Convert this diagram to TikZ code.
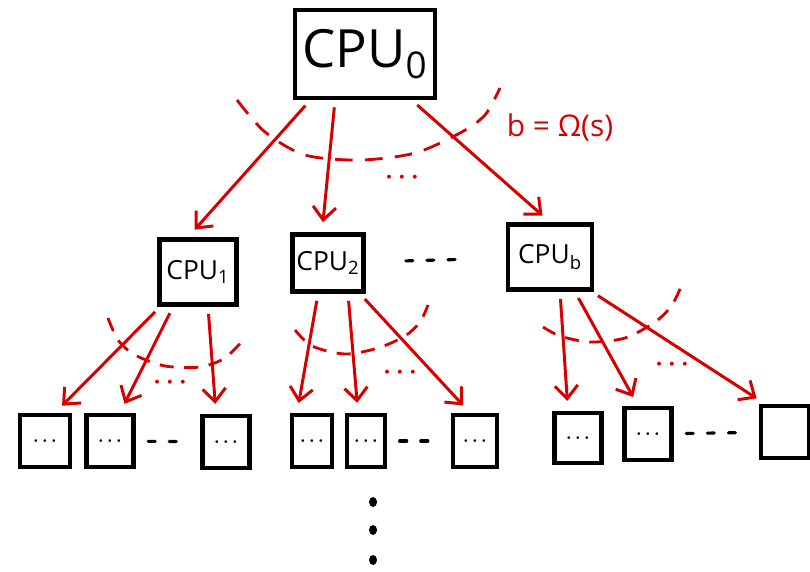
\documentclass[tikz,border=0pt]{standalone}
\usepackage{fontspec}
\setmainfont{Open Sans}
\usetikzlibrary{arrows.meta}
\definecolor{pen}{RGB}{214,0,0}

\begin{document}
\begin{tikzpicture}[
        x=0.02cm, y=-0.02cm,
        cpu/.style={rectangle, draw=black, line width=2.7pt, inner sep=0pt, font=\fontsize{15}{17}\selectfont},
        leaf/.style={rectangle, draw=black, line width=2.5pt, inner sep=0pt, minimum width=0.94cm, minimum height=1.04cm, font=\normalsize\boldmath},
        arrow/.style={-{Straight Barb[length=2.6mm,width=4.6mm]}, pen, line width=1.7pt, shorten <=0.14cm, shorten >=0.2cm},
        span/.style={pen, line width=1.6pt, dash pattern=on 10pt off 7pt},
        gap/.style={black, line width=1.8pt, dash pattern=on 4pt off 8pt, line cap=round, shorten <=0.25cm, shorten >=0.2cm},
        etc/.style={pen, font=\Large\boldmath}
    ]
    \useasboundingbox (0,0) rectangle (810,571);
    % Nodes
    \node[cpu, minimum width=2.8cm, minimum height=1.76cm, font=\fontsize{30}{32}\selectfont] (cpu0) at (365,54) {CPU\textsubscript{0}};
    \node[cpu, minimum width=1.54cm, minimum height=1.3cm] (cpu1) at (198,272) {CPU\textsubscript{1}};
    \node[cpu, minimum width=1.42cm, minimum height=1.14cm] (cpu2) at (328,263) {CPU\textsubscript{2}};
    \node[cpu, minimum width=1.68cm, minimum height=1.3cm] (cpub) at (550,257) {CPU\textsubscript{b}};
    \node[leaf, minimum width=1cm] (l1) at (45,441) {$\cdots$};
    \node[leaf] (l2) at (110,441) {$\cdots$};
    \node[leaf] (l3) at (226,442) {$\cdots$};
    \node[leaf, minimum width=0.8cm] (l4) at (312,441) {$\cdots$};
    \node[leaf, minimum width=0.76cm] (l5) at (366,441) {$\cdots$};
    \node[leaf, minimum width=0.88cm] (l6) at (475,441) {$\cdots$};
    \node[leaf, minimum height=1cm] (l7) at (578,438) {$\cdots$};
    \node[leaf] (l8) at (648,434) {$\cdots$};
    \node[leaf, minimum width=0.96cm] (l9) at (785,432) {};
    % Labels
    \node[pen, font=\fontsize{17}{19}\selectfont] (bound) at (560,128) {b = Ω(s)};
    \node[etc] (etc0) at (402,178) {$\cdots$};
    \node[etc] (etc1) at (170,383) {$\cdots$};
    \node[etc] (etc2) at (400,373) {$\cdots$};
    \node[etc] (etcb) at (672,365) {$\cdots$};
    % Fan-out arcs
    \draw[span] plot[smooth] coordinates {(237,100) (265,132) (305,155) (360,160) (415,153) (460,133) (485,115) (500,88)};
    \draw[span, dash pattern=on 8pt off 6pt] plot[smooth] coordinates {(108,318) (118,340) (135,355) (165,366) (200,367) (225,358) (243,340)};
    \draw[span, dash pattern=on 8pt off 6pt] plot[smooth] coordinates {(295,330) (312,346) (345,354) (378,348) (405,336) (420,322) (428,305)};
    \draw[span, dash pattern=on 8pt off 6pt] plot[smooth] coordinates {(543,327) (560,336) (590,342) (625,338) (655,322) (672,305) (683,282)};
    % Edges
    \draw[arrow] ([xshift=-1.1cm]cpu0.south) -- ([xshift=-0.2cm]cpu1.north);
    \draw[arrow] ([xshift=-0.6cm]cpu0.south) -- ([xshift=-0.12cm]cpu2.north);
    \draw[arrow] ([xshift=0.94cm]cpu0.south) -- (cpub.north);
    \draw[arrow] ([xshift=-0.76cm]cpu1.south) -- ([xshift=0.2cm]l1.north);
    \draw[arrow] ([xshift=-0.5cm]cpu1.south) -- ([xshift=0.2cm]l2.north);
    \draw[arrow] ([xshift=0.2cm]cpu1.south) -- ([xshift=-0.2cm]l3.north);
    \draw[arrow] ([xshift=-0.2cm]cpu2.south) -- ([xshift=-0.3cm]l4.north);
    \draw[arrow] ([xshift=0.4cm]cpu2.south) -- ([xshift=-0.16cm]l5.north);
    \draw[arrow] ([xshift=0.64cm]cpu2.south) -- ([xshift=-0.1cm]l6.north);
    \draw[arrow] ([xshift=0.2cm]cpub.south) -- ([xshift=-0.2cm]l7.north);
    \draw[arrow] ([xshift=0.5cm]cpub.south) -- ([xshift=-0.2cm]l8.north);
    \draw[arrow] ([xshift=0.84cm]cpub.south) -- ([xshift=-0.4cm]l9.north);
    % Gaps
    \draw[gap, shorten <=0.8cm, shorten >=0.76cm] (cpu2) -- (cpub);
    \draw[gap] (l2) -- (l3);
    \draw[gap] (l5) -- (l6);
    \draw[gap] (l8) -- (l9);
    % More levels
    \foreach \y in {502,530,560}
        \fill (373,\y) ellipse (0.08cm and 0.1cm);
\end{tikzpicture}
\end{document}
